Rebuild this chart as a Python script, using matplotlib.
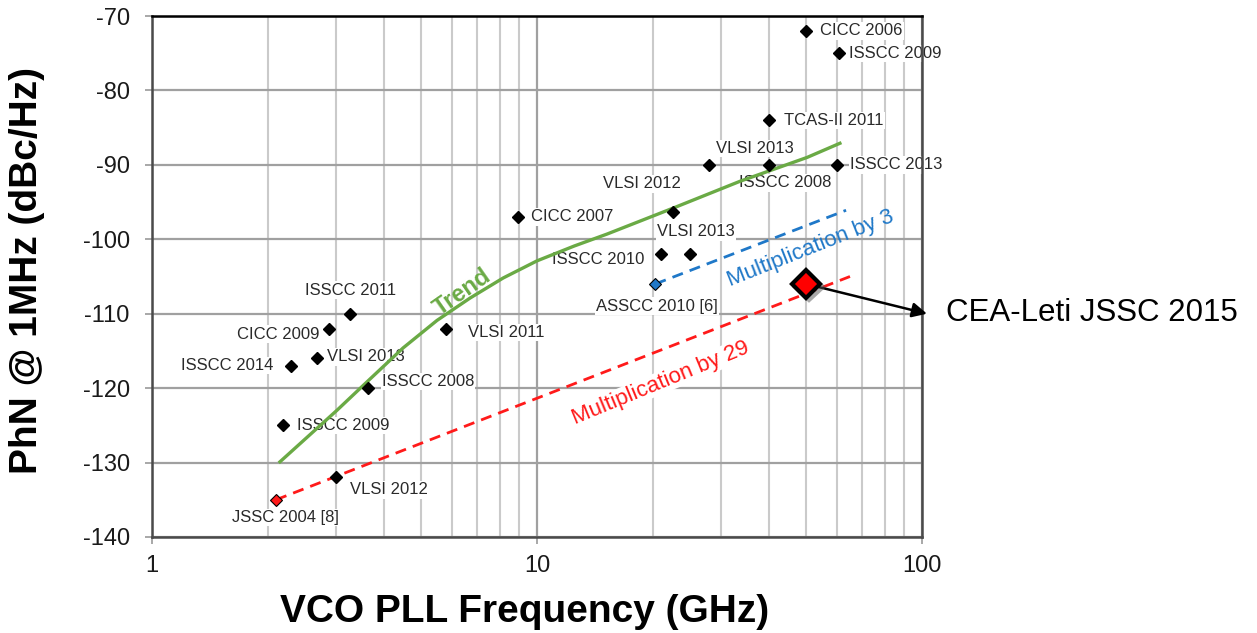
import matplotlib.pyplot as plt
import matplotlib.patheffects as pe
from matplotlib.ticker import FixedLocator, NullFormatter

# published PLLs: frequency (GHz), phase noise @ 1MHz (dBc/Hz), label, label offset (pt), ha
names = ["CICC 2006", "ISSCC 2009", "TCAS-II 2011", "VLSI 2013", "ISSCC 2008", "ISSCC 2013",
         "VLSI 2012", "CICC 2007", "VLSI 2013", "ISSCC 2010", "ISSCC 2011", "CICC 2009",
         "VLSI 2013", "ISSCC 2014", "ISSCC 2008", "ISSCC 2009", "VLSI 2011", "VLSI 2012"]
freq = [50, 61, 40, 28, 40, 60, 22.5, 8.9, 25, 21, 3.27, 2.88, 2.68, 2.30, 3.64, 2.19, 5.8, 3.0]
phn = [-72, -75, -84, -90, -90, -90, -96.3, -97, -102, -102, -110, -112, -116, -117, -120, -125, -112, -132]
offs = [(10, 0), (7, 0), (11, 0), (33, 12), (12, -13), (10, 0), (-22, 20), (10, 0), (4, 16),
        (-12, -4), (0, 17), (-7, -4), (7, 1), (-13, 0), (10, 5), (10, 0), (16, -3), (10, -9)]
has = ["left", "left", "left", "center", "center", "left", "center", "left", "center",
       "right", "center", "right", "left", "right", "left", "left", "left", "left"]

trend_ghz = [2.15, 3.02, 3.68, 4.49, 5.50, 6.70, 8.17, 10.0, 12.5, 15.2, 22.6, 33.7, 50.3, 61.2]
trend_dbc = [-129.9, -123.0, -118.8, -114.6, -110.9, -107.9, -105.2, -102.9, -100.9, -99.3,
             -95.8, -92.2, -89.0, -87.1]

jssc04 = (2.1, -135)
asscc10 = (20.3, -106)
mul29_end = (65, -105)
mul3_end = (63.5, -96.1)
cea = (50, -106)

plt.rcParams['font.family'] = ['Liberation Sans', 'DejaVu Sans']
plt.rcParams['axes.unicode_minus'] = False
fig = plt.figure(figsize=(12.57, 6.33), dpi=100)
ax = fig.add_axes([0.1209, 0.1517, 0.6126, 0.823])

ax.set_xscale('log')
ax.set_xlim(1, 100)
ax.set_ylim(-140, -70)
ax.set_yticks(range(-140, -69, 10))
ax.xaxis.set_major_locator(FixedLocator([1, 10, 100]))
ax.xaxis.set_minor_locator(FixedLocator([k * d for d in (1, 10) for k in range(2, 10)]))
ax.xaxis.set_minor_formatter(NullFormatter())
ax.set_xticklabels(["1", "10", "100"])
ax.set_axisbelow(True)
ax.grid(True, which='major', color='#a0a0a0', lw=1.6)
ax.grid(True, which='minor', axis='x', color='#cacaca', lw=1.5)
ax.tick_params(axis='both', which='major', length=5, width=1.2, color='#999999',
               labelsize=17, labelcolor='#1a1a1a')
ax.tick_params(axis='y', pad=11)
ax.tick_params(axis='x', pad=8)
ax.tick_params(axis='x', which='minor', length=0)
for s in ax.spines.values():
    s.set_linewidth(1.8)
    s.set_color('#4a4a4a')
ax.spines['top'].set_color('black')

# trend and multiplication lines
ax.plot(trend_ghz, trend_dbc, color='#6aaa45', lw=2.4, zorder=3, solid_joinstyle='round')
ax.plot([jssc04[0], mul29_end[0]], [jssc04[1], mul29_end[1]], color='#ff1a1a', lw=2,
        ls=(0, (4, 2.6)), zorder=3)
ax.plot([asscc10[0], mul3_end[0]], [asscc10[1], mul3_end[1]], color='#1f78c8', lw=2,
        ls=(0, (4, 2.6)), zorder=3)

# data points with labels
ax.plot(freq, phn, 'D', color='black', ms=6, zorder=4)
for n, x, y, o, h in zip(names, freq, phn, offs, has):
    ax.annotate(n, (x, y), xytext=o, textcoords='offset points', ha=h, va='center',
                fontsize=12, color='#2a2a2a', zorder=2.5,
                bbox=dict(fc='white', ec='none', pad=0.8))

ax.plot(*jssc04, 'D', color='#ff1a1a', mec='black', mew=0.8, ms=6.5, zorder=4)
ax.annotate("JSSC 2004 [8]", jssc04, xytext=(7, -13), textcoords='offset points',
            ha='center', va='center', fontsize=12, color='#2a2a2a', zorder=2.5,
            bbox=dict(fc='white', ec='none', pad=0.8))
ax.plot(*asscc10, 'D', color='#1f78c8', mec='black', mew=0.8, ms=6.5, zorder=4)
ax.annotate("ASSCC 2010 [6]", asscc10, xytext=(1, -16), textcoords='offset points',
            ha='center', va='center', fontsize=12, color='#2a2a2a', zorder=2.5,
            bbox=dict(fc='white', ec='none', pad=0.8))

# line labels
ax.text(6.42, -107.1, "Trend", color='#6aaa45', fontsize=17, fontweight='bold',
        rotation=35, ha='center', va='center', zorder=3)
ax.text(20.9, -119.3, "Multiplication by 29", color='#ff1a1a', fontsize=16,
        rotation=22.4, ha='center', va='center', zorder=2.5,
        bbox=dict(fc='white', ec='none', pad=0.5))
ax.text(51.5, -101.2, "Multiplication by 3", color='#1f78c8', fontsize=16,
        rotation=21.6, ha='center', va='center', zorder=2.5)

# CEA-Leti point and callout
ax.annotate("", xy=(103, -110), xytext=cea, annotation_clip=False,
            arrowprops=dict(arrowstyle='-|>', color='black', lw=1.8, mutation_scale=22,
                            shrinkA=9, shrinkB=0), zorder=5)
ax.plot(*cea, 'D', color='#ff0000', mec='black', mew=3, ms=14, zorder=6,
        path_effects=[pe.SimpleLineShadow(offset=(2, -2), shadow_color='#555555', alpha=0.5),
                      pe.Normal()])
fig.text(946 / 1257, 1 - 313 / 633, "CEA-Leti JSSC 2015", fontsize=22.5, color='black',
         ha='left', va='center')

fig.text(27 / 1257, 1 - 271 / 633, "PhN @ 1MHz (dBc/Hz)", rotation=90, fontsize=28,
         fontweight='bold', ha='center', va='center')
fig.text(525 / 1257, 1 - 612 / 633, "VCO PLL Frequency (GHz)", fontsize=28,
         fontweight='bold', ha='center', va='center')

fig.savefig("out.png", dpi=100)
